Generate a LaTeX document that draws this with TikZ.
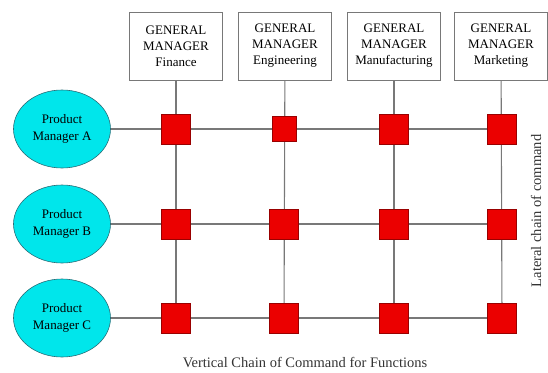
\documentclass[tikz,border=0pt]{standalone}
\usepackage{fontspec}
\setmainfont{Liberation Serif}
\usepackage{xcolor}
\usetikzlibrary{shapes.geometric,backgrounds}

\definecolor{pmcyan}{RGB}{0,230,235}
\definecolor{pmedge}{RGB}{40,110,120}
\definecolor{boxred}{RGB}{235,0,0}
\definecolor{linegrey}{RGB}{120,120,120}

\begin{document}
\begin{tikzpicture}[x=1pt,y=-1pt,%
% common options for the general manager boxes:
gmbox/.style = {draw=linegrey, fill=white, align=center, line width=0.8pt,
            minimum width=93pt, minimum height=68pt, inner sep=0,
            font=\fontsize{13}{16}\selectfont},
% common options for the product managers:
pm/.style = {ellipse, draw=pmedge, fill=pmcyan, align=center, line width=0.6pt,
            minimum width=97pt, minimum height=78pt, inner sep=0,
            font=\fontsize{13}{17}\selectfont},
% common options for the crossing squares:
cross/.style = {rectangle, draw=red!60!black, fill=boxred, line width=0.4pt,
            minimum width=29pt, minimum height=30pt, inner sep=0},
chain/.style = {draw=linegrey, line width=1.1pt}]
\useasboundingbox (0,0) rectangle (548,372);

\node[gmbox] (GM1) at (176,46) {GENERAL\\MANAGER\\Finance};
\node[gmbox] (GM2) at (285,46) {GENERAL\\MANAGER\\Engineering};
\node[gmbox] (GM3) at (394,46) {GENERAL\\MANAGER\\Manufacturing};
\node[gmbox] (GM4) at (501,46) {GENERAL\\MANAGER\\Marketing};

\node[pm] (PMA) at (62,129) {Product\\Manager A};
\node[pm] (PMB) at (62,224) {Product\\Manager B};
\node[pm] (PMC) at (62,318) {Product\\Manager C};

\node[cross] (SA1) at (176,129) {};
\node[cross,minimum width=24pt,minimum height=25pt] (SA2) at (284,129) {};
\node[cross] (SA3) at (394,129) {};
\node[cross] (SA4) at (502,129) {};

\node[cross] (SB1) at (176,224) {};
\node[cross] (SB2) at (284,224) {};
\node[cross] (SB3) at (394,224) {};
\node[cross] (SB4) at (502,224) {};

\node[cross] (SC1) at (176,318) {};
\node[cross] (SC2) at (284,318) {};
\node[cross] (SC3) at (394,318) {};
\node[cross] (SC4) at (502,318) {};

\begin{pgfonlayer}{background}
\draw[chain] (GM1) -- (SC1.center);
\draw[chain] (GM2) -- (SC2.center);
\draw[chain] (GM3) -- (SC3.center);
\draw[chain] (GM4) -- (SC4.center);

\draw[chain] (PMA) -- (SA4.center);
\draw[chain] (PMB) -- (SB4.center);
\draw[chain] (PMC) -- (SC4.center);
\end{pgfonlayer}

\node[text=black!80,font=\fontsize{14.5}{16}\selectfont] (VC) at (305,362)
  {Vertical Chain of Command for Functions};
\node[text=black!80,rotate=90,font=\fontsize{14.5}{16}\selectfont] (LC) at (536,211)
  {Lateral chain of command};
\end{tikzpicture}
\end{document}
